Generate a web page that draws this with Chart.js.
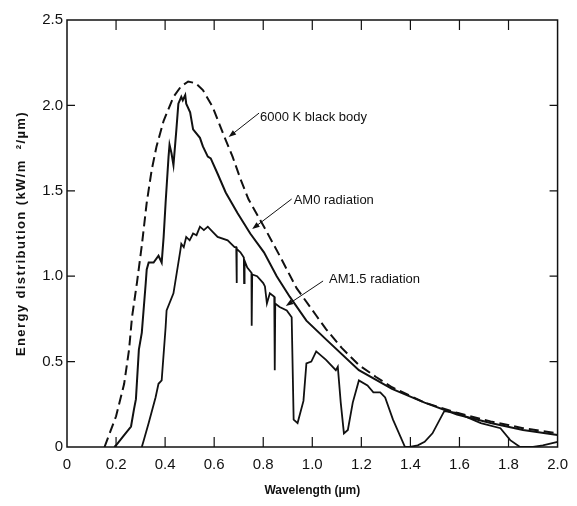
<!DOCTYPE html>
<html>
<head>
<meta charset="utf-8">
<script src="https://cdn.jsdelivr.net/npm/chart.js@4.4.1/dist/chart.umd.min.js"></script>
<style>
  body { margin: 0; background: #fff; }
  #wrap { width: 577px; height: 506px; }
</style>
</head>
<body>
<div id="wrap"><canvas id="spectrum" width="577" height="506"></canvas></div>
<script>
// --- DATA (wavelength in um, energy in kW/m2/um) ---
const blackBodyX = [0.153, 0.20, 0.233, 0.253, 0.265, 0.285, 0.305, 0.325, 0.345, 0.365, 0.394, 0.434, 0.464, 0.494, 0.524, 0.554, 0.594, 0.635, 0.675, 0.707, 0.74, 0.803, 0.867, 0.936, 1.016, 1.056, 1.12, 1.19, 1.26, 1.325, 1.458, 1.59, 1.727, 1.859, 2.0];
const blackBodyY = [0, 0.18, 0.37, 0.57, 0.76, 0.96, 1.18, 1.43, 1.62, 1.76, 1.91, 2.05, 2.11, 2.14, 2.13, 2.09, 1.99, 1.84, 1.70, 1.57, 1.45, 1.29, 1.12, 0.93, 0.77, 0.69, 0.58, 0.48, 0.41, 0.35, 0.26, 0.20, 0.15, 0.11, 0.08];

const am0X = [0.193, 0.20, 0.233, 0.261, 0.273, 0.281, 0.293, 0.305, 0.321, 0.325, 0.333, 0.353, 0.373, 0.386, 0.394, 0.402, 0.414, 0.418, 0.426, 0.434, 0.446, 0.454, 0.466, 0.472, 0.482, 0.486, 0.502, 0.514, 0.542, 0.554, 0.574, 0.586, 0.614, 0.647, 0.695, 0.747, 0.803, 0.855, 0.908, 0.976, 1.056, 1.19, 1.325, 1.458, 1.59, 1.727, 1.859, 2.0];
const am0Y = [0, 0.01, 0.07, 0.12, 0.22, 0.28, 0.57, 0.67, 0.96, 1.04, 1.08, 1.08, 1.12, 1.08, 1.23, 1.43, 1.70, 1.77, 1.72, 1.65, 1.86, 2.01, 2.05, 2.03, 2.06, 2.01, 1.96, 1.86, 1.81, 1.76, 1.70, 1.69, 1.60, 1.49, 1.37, 1.25, 1.14, 1.00, 0.88, 0.74, 0.63, 0.45, 0.34, 0.26, 0.19, 0.14, 0.10, 0.07];

const am15X = [0.305, 0.313, 0.333, 0.361, 0.373, 0.386, 0.402, 0.406, 0.434, 0.462, 0.466, 0.476, 0.486, 0.500, 0.514, 0.528, 0.542, 0.558, 0.574, 0.594, 0.614, 0.655, 0.683, 0.690, 0.691, 0.693, 0.707, 0.721, 0.722, 0.724, 0.735, 0.752, 0.753, 0.755, 0.775, 0.800, 0.807, 0.815, 0.827, 0.845, 0.847, 0.849, 0.867, 0.896, 0.916, 0.924, 0.94, 0.964, 0.976, 0.996, 1.016, 1.056, 1.096, 1.104, 1.116, 1.129, 1.145, 1.165, 1.19, 1.225, 1.249, 1.277, 1.297, 1.329, 1.378, 1.398, 1.43, 1.458, 1.49, 1.538, 1.59, 1.687, 1.767, 1.807, 1.847, 1.90, 1.94, 2.0];
const am15Y = [0, 0.04, 0.14, 0.29, 0.37, 0.39, 0.70, 0.80, 0.90, 1.15, 1.19, 1.17, 1.23, 1.21, 1.25, 1.24, 1.29, 1.27, 1.29, 1.26, 1.23, 1.21, 1.17, 1.17, 0.96, 1.16, 1.14, 1.11, 0.96, 1.09, 1.05, 1.02, 0.71, 1.01, 1.00, 0.96, 0.94, 0.84, 0.90, 0.88, 0.45, 0.84, 0.82, 0.80, 0.76, 0.16, 0.14, 0.27, 0.49, 0.50, 0.56, 0.51, 0.45, 0.47, 0.26, 0.08, 0.10, 0.26, 0.39, 0.36, 0.32, 0.32, 0.29, 0.16, 0, 0, 0.01, 0.03, 0.08, 0.21, 0.20, 0.14, 0.11, 0.04, 0, 0, 0.01, 0.03];

// --- labels with arrows, placed in data units ---
const noteText = ['6000 K black body', 'AM0 radiation', 'AM1.5 radiation'];
const noteAt = [[0.787, 1.932], [0.924, 1.446], [1.068, 0.984]];
const arrowFrom = [[0.783, 1.955], [0.916, 1.452], [1.044, 0.972]];
const arrowTo = [[0.659, 1.815], [0.755, 1.276], [0.892, 0.826]];
const yTitle = 'Energy distribution (kW/m  \u00b2/\u00b5m)';

const INK = '#111';
const FONT = "'Liberation Sans', Arial, sans-serif";

function points(xs, ys) {
    return xs.map((x, i) => ({ x: x, y: ys[i] }));
}

function tickLabel(v) {
    return v === 0 ? '0' : v.toFixed(1);
}

// frame, inward ticks, y title and the arrowed notes
const framePlugin = {
    id: 'frame',
    afterDraw(chart) {
        const { ctx, chartArea: a, scales: { x, y } } = chart;
        ctx.save();
        ctx.strokeStyle = INK;
        ctx.lineWidth = 1.5;
        ctx.strokeRect(a.left, a.top, a.right - a.left, a.bottom - a.top);

        ctx.lineWidth = 1.2;
        ctx.beginPath();
        x.ticks.forEach(t => {
            if (t.value <= x.min || t.value >= x.max) return;
            const px = x.getPixelForValue(t.value);
            ctx.moveTo(px, a.bottom); ctx.lineTo(px, a.bottom - 10);
            ctx.moveTo(px, a.top); ctx.lineTo(px, a.top + 10);
        });
        y.ticks.forEach(t => {
            if (t.value <= y.min || t.value >= y.max) return;
            const py = y.getPixelForValue(t.value);
            ctx.moveTo(a.left, py); ctx.lineTo(a.left + 8, py);
            ctx.moveTo(a.right, py); ctx.lineTo(a.right - 8, py);
        });
        ctx.stroke();

        ctx.fillStyle = INK;
        ctx.textBaseline = 'middle';

        // y title, spaced out like the original
        ctx.save();
        ctx.translate(21, (110 + 357) / 2);
        ctx.rotate(-Math.PI / 2);
        ctx.font = 'bold 13px ' + FONT;
        ctx.letterSpacing = '1.4px';
        ctx.textAlign = 'center';
        ctx.fillText(yTitle, 0, 0);
        ctx.restore();

        // notes
        ctx.font = '13px ' + FONT;
        ctx.textAlign = 'left';
        noteText.forEach((txt, i) => {
            ctx.fillText(txt, x.getPixelForValue(noteAt[i][0]), y.getPixelForValue(noteAt[i][1]));
            const x0 = x.getPixelForValue(arrowFrom[i][0]), y0 = y.getPixelForValue(arrowFrom[i][1]);
            const x1 = x.getPixelForValue(arrowTo[i][0]), y1 = y.getPixelForValue(arrowTo[i][1]);
            const ang = Math.atan2(y1 - y0, x1 - x0);
            ctx.lineWidth = 1;
            ctx.beginPath();
            ctx.moveTo(x0, y0);
            ctx.lineTo(x1 - 5 * Math.cos(ang), y1 - 5 * Math.sin(ang));
            ctx.stroke();
            ctx.beginPath();
            ctx.moveTo(x1, y1);
            ctx.lineTo(x1 - 8 * Math.cos(ang - 0.35), y1 - 8 * Math.sin(ang - 0.35));
            ctx.lineTo(x1 - 8 * Math.cos(ang + 0.35), y1 - 8 * Math.sin(ang + 0.35));
            ctx.closePath();
            ctx.fill();
        });
        ctx.restore();
    }
};

new Chart(document.getElementById('spectrum').getContext('2d'), {
    type: 'line',
    data: {
        datasets: [
            { label: '6000 K black body', data: points(blackBodyX, blackBodyY), borderColor: INK, borderWidth: 2, borderDash: [10, 5] },
            { label: 'AM0 radiation', data: points(am0X, am0Y), borderColor: INK, borderWidth: 2 },
            { label: 'AM1.5 radiation', data: points(am15X, am15Y), borderColor: INK, borderWidth: 1.8 }
        ]
    },
    options: {
        responsive: false,
        animation: false,
        events: [],
        layout: { padding: { left: 0, right: 12, top: 20, bottom: 0 } },
        elements: { point: { radius: 0 }, line: { tension: 0, fill: false } },
        plugins: { legend: { display: false }, tooltip: { enabled: false } },
        scales: {
            x: {
                type: 'linear', min: 0, max: 2.0,
                grid: { display: false, drawTicks: false },
                border: { display: false },
                ticks: { stepSize: 0.2, color: INK, padding: 9, maxRotation: 0, font: { family: FONT, size: 15 }, callback: tickLabel },
                title: { display: true, text: 'Wavelength (\u00b5m)', color: INK, font: { family: FONT, size: 12, weight: 'bold' }, padding: { top: 0, bottom: 8 } },
                afterFit: s => { s.height = 59; }
            },
            y: {
                min: 0, max: 2.5,
                grid: { display: false, drawTicks: false },
                border: { display: false },
                ticks: { stepSize: 0.5, color: INK, padding: 4, font: { family: FONT, size: 15 }, callback: tickLabel },
                afterFit: s => { s.width = 67; }
            }
        }
    },
    plugins: [framePlugin]
});
</script>
</body>
</html>
